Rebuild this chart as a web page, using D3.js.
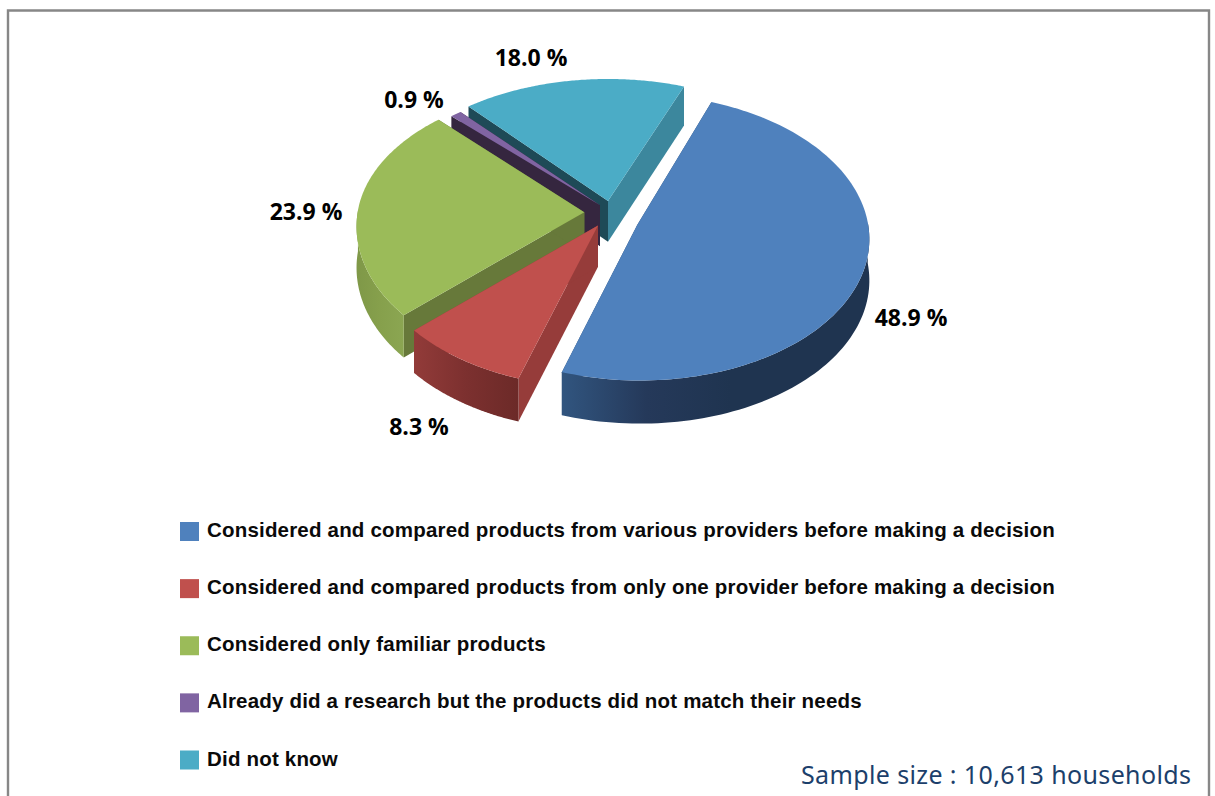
<!DOCTYPE html>
<html><head><meta charset="utf-8">
<script src="https://cdnjs.cloudflare.com/ajax/libs/d3/7.8.5/d3.min.js"></script>
<style>html,body{margin:0;padding:0;background:#fff;overflow:hidden}svg{display:block}</style>
</head><body><svg id="c" width="1215" height="796"></svg>
<script>
const categories = [
  "Considered and compared products from various providers before making a decision",
  "Considered and compared products from only one provider before making a decision",
  "Considered only familiar products",
  "Already did a research but the products did not match their needs",
  "Did not know"
];
const values = [48.9, 8.3, 23.9, 0.9, 18.0];
const topColors = ["#4F81BD", "#C0504D", "#9BBB59", "#8064A2", "#4BACC6"];
const cutColors = ["#2B4A70", "#963C3A", "#67793A", "#35263F", "#1E4A57"];
const cutColors2 = ["#2B4A70", "#963C3A", "#67793A", "#35263F", "#3C879D"];
const wallStops = [
  ["#31557F", "#25395A", "#1F3450"],
  ["#923B39", "#7C302F", "#6C2A28"],
  ["#7F9848", "#86A04C", "#8BA652"],
  ["#35263F", "#35263F", "#35263F"],
  ["#3C879D", "#3C879D", "#3C879D"]
];
const explode = [[.126,.046],[-.043,.05],[-.103,-.045],[-.035,-.095],[0,-.125]];
// [across, upward, downward] radius factors of each slice under the 3-D camera
const radial = [[.996,1,.995],[1,1.03,1.03],[.985,.965,1.03],[1,.935,1],[1,.955,1]];
const labelPos = [[911,318],[419,427],[306,212],[414,100],[531,58]];
const paintOrder = [4,3,2,1,0];

const svg = d3.select("#c");
const CX=608, CY=218.5, R=231, RY=141.4, K=.0876, H=41;
const startDeg = 21;

const pie = d3.pie().sort(null)
  .startAngle(startDeg*Math.PI/180).endAngle((startDeg+360)*Math.PI/180);
const arcs = pie(values);
// the picture's 3-D camera bends the angles a little
const warp = d3.scaleLinear().domain([21,197,227,313,381]).range([21,198,228,316.5,381]);
const rad = d => d*Math.PI/180, deg = r => r*180/Math.PI;

function project(i, r, t, down){
  const c = -Math.cos(t), f = radial[i];
  const u = explode[i][0] + r*Math.sin(t)*f[0];
  const v = explode[i][1] + r*c*(c<0?f[1]:f[2]);
  const s = 1/(1-K*v);
  return [CX + R*u*s, CY + RY*v*s + (down ? H*(1+.05*v) : 0)];
}
const line = d3.line();
const close = d3.line().curve(d3.curveLinearClosed);
const angles = (a) => {
  const a0 = rad(warp(deg(a.startAngle))), a1 = rad(warp(deg(a.endAngle)));
  return d3.range(0,121).map(k => a0+(a1-a0)*k/120);
};

const defs = svg.append("defs");
arcs.forEach((a,i)=>{
  const pts = angles(a).map(t=>project(i,1,t,false));
  const ext = d3.extent(pts,p=>p[0]);
  const lower = pts.filter(p=>p[1]>CY+10);
  const e2 = lower.length ? d3.extent(lower,p=>p[0]) : ext;
  const g = defs.append("linearGradient").attr("id","w"+i)
    .attr("gradientUnits","userSpaceOnUse")
    .attr("x1",e2[0]).attr("x2",i===0? e2[0]+(e2[1]-e2[0])*.55 : e2[1]).attr("y1",0).attr("y2",0);
  wallStops[i].forEach((c,k)=>g.append("stop").attr("offset",k/2).attr("stop-color",c));
});

paintOrder.forEach(i=>{
  const a = arcs[i], ts = angles(a);
  const apexT = project(i,0,0,false), apexB = project(i,0,0,true);
  const first = ts[0], last = ts[ts.length-1];
  const g = svg.append("g").attr("class","slice");
  // cut faces
  g.append("path").attr("fill",cutColors[i]).attr("d",close([apexT,project(i,1,first,false),project(i,1,first,true),apexB]));
  g.append("path").attr("fill",cutColors2[i]).attr("d",close([apexT,project(i,1,last,false),project(i,1,last,true),apexB]));
  // outer rim: only the part that faces the viewer
  const rimTop = ts.map(t=>project(i,1,t,false));
  const front = ts.filter(t=>-Math.cos(t) > -.02);
  if (front.length > 1) {
    const ft = front.map(t=>project(i,1,t,false));
    const fb = front.map(t=>project(i,1,t,true)).reverse();
    g.append("path").attr("fill",`url(#w${i})`).attr("d",close(ft.concat(fb)));
  }
  // top face
  g.append("path").attr("fill",topColors[i]).attr("d",close([apexT].concat(rimTop)));
});

// percentage labels
svg.append("g").selectAll("text").data(values).join("text")
  .attr("x",(d,i)=>labelPos[i][0]).attr("y",(d,i)=>labelPos[i][1]+8)
  .attr("text-anchor","middle")
  .attr("font-family","'Open Sans',sans-serif").attr("font-weight",700).attr("font-size",23)
  .attr("fill","#000")
  .text(d=>d3.format(".1f")(d)+" %");

// legend
const legendY = d3.scalePoint().domain(d3.range(categories.length)).range([531.5,760]);
const lg = svg.append("g");
lg.selectAll("rect").data(categories).join("rect")
  .attr("x",180).attr("y",(d,i)=>legendY(i)-9.5).attr("width",19).attr("height",19)
  .attr("fill",(d,i)=>topColors[i]);
lg.selectAll("text").data(categories).join("text")
  .attr("x",207).attr("y",(d,i)=>legendY(i)+5.5)
  .attr("font-family","'Liberation Sans',Arial,sans-serif").attr("font-weight",700).attr("font-size",20.5)
  .attr("letter-spacing",0.19).attr("fill","#0a0a0a").text(d=>d);

// frame
svg.append("path").attr("fill","none").attr("stroke","#878787").attr("stroke-width",2.4)
  .attr("d",line([[8,796],[8,10.5],[1209,10.5],[1209,796]]));

svg.append("text").attr("x",801).attr("y",784)
  .attr("font-family","'Noto Sans',sans-serif").attr("font-size",25)
  .attr("fill","#1C3F6B").attr("textLength",390).attr("lengthAdjust","spacing")
  .text("Sample size : 10,613 households");
</script></body></html>
